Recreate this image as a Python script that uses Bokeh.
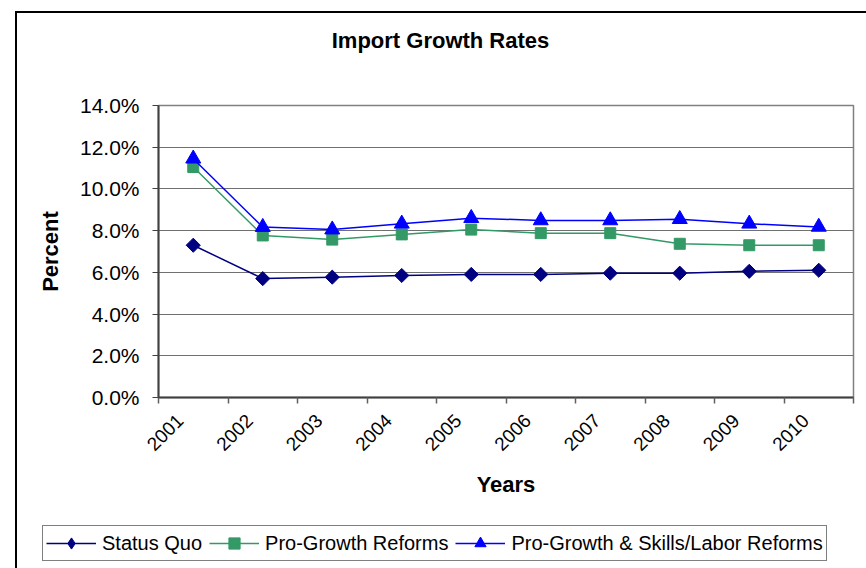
import math
from bokeh.plotting import figure
from bokeh.models import (FixedTicker, PrintfTickFormatter, Legend, LegendItem, Range1d, Label, Div)
from bokeh.embed import file_html
from bokeh.resources import INLINE

years = ["2001", "2002", "2003", "2004", "2005", "2006", "2007", "2008", "2009", "2010"]
status_quo = [7.3, 5.7, 5.77, 5.85, 5.9, 5.9, 5.96, 5.96, 6.05, 6.1]
pro_growth = [11.05, 7.77, 7.57, 7.82, 8.05, 7.88, 7.88, 7.37, 7.3, 7.3]
pro_growth_skills = [11.45, 8.17, 8.05, 8.33, 8.6, 8.49, 8.49, 8.55, 8.33, 8.18]
y_ticks = [0, 2, 4, 6, 8, 10, 12, 14]
title_text = "Import Growth Rates"

FONT = "Liberation Sans"
W = 866
TITLE_H, LEGEND_H = 80, 48
MAIN_H = 568 - TITLE_H - LEGEND_H

xs = [i + 0.5 for i in range(len(years))]
label_pos = [i + 0.31 for i in range(len(years))]


def strip(height, xr, yr):
    f = figure(width=W, height=height, output_backend="svg", toolbar_location=None,
               x_range=xr, y_range=yr,
               min_border_left=0, min_border_right=0, min_border_top=0, min_border_bottom=0,
               x_axis_type=None, y_axis_type=None)
    f.outline_line_color = None
    f.xgrid.grid_line_color = None
    f.ygrid.grid_line_color = None
    f.background_fill_color = "white"
    f.border_fill_color = "white"
    return f


# ---- title strip ----
pt = strip(TITLE_H, Range1d(0, W), Range1d(TITLE_H, 0))
pt.add_layout(Label(x=440, y=40, text=title_text, text_align="center", text_baseline="middle",
                    text_font=FONT, text_font_size="22px", text_font_style="bold",
                    text_color="black"))

# ---- main chart ----
p = figure(width=W, height=MAIN_H, output_backend="svg", toolbar_location=None,
           x_range=Range1d(0, len(years)), y_range=Range1d(0, 14),
           min_border_left=158, min_border_right=13, min_border_top=25,
           min_border_bottom=MAIN_H - 25 - 292)
p.outline_line_color = "#808080"
p.outline_line_width = 1.5
p.background_fill_color = "white"
p.border_fill_color = "white"

p.xgrid.grid_line_color = None
p.ygrid.grid_line_color = "#707070"
p.ygrid.grid_line_width = 1
p.ygrid.ticker = FixedTicker(ticks=y_ticks)

ya = p.yaxis[0]
ya.ticker = FixedTicker(ticks=y_ticks)
ya.formatter = PrintfTickFormatter(format="%.1f%%")
ya.axis_label = "Percent"
ya.axis_label_text_font = FONT
ya.axis_label_text_font_size = "22px"
ya.axis_label_text_font_style = "bold"
ya.axis_label_text_color = "black"
ya.axis_label_standoff = 14
ya.major_label_text_font = FONT
ya.major_label_text_font_size = "21px"
ya.major_label_text_color = "black"
ya.major_label_standoff = 13
ya.major_tick_out = 6
ya.major_tick_in = 0
ya.minor_tick_line_color = None
ya.axis_line_color = "#404040"
ya.axis_line_width = 2
ya.major_tick_line_color = "#404040"

xa = p.xaxis[0]
xa.ticker = FixedTicker(ticks=label_pos, minor_ticks=list(range(len(years) + 1)))
xa.major_label_overrides = {x: y for x, y in zip(label_pos, years)}
xa.major_label_orientation = math.pi / 4
xa.major_label_text_font = FONT
xa.major_label_text_font_size = "19px"
xa.major_label_text_color = "black"
xa.major_label_standoff = 14
xa.major_tick_line_color = None
xa.minor_tick_out = 6
xa.minor_tick_in = 0
xa.minor_tick_line_color = "#606060"
xa.minor_tick_line_width = 1.5
xa.axis_line_color = "#404040"
xa.axis_line_width = 2
xa.axis_label = "Years"
xa.axis_label_text_font = FONT
xa.axis_label_text_font_size = "22px"
xa.axis_label_text_font_style = "bold"
xa.axis_label_text_color = "black"
xa.axis_label_standoff = 12

# name, values, colour, chart marker, size, angle, legend marker
series = [
    ("Status Quo", status_quo, "#000080", "square", 10, math.pi / 4, "diamond"),
    ("Pro-Growth Reforms", pro_growth, "#339966", "square", 11, 0.0, "square"),
    ("Pro-Growth & Skills/Labor Reforms", pro_growth_skills, "#0000FF", "triangle", 15, 0.0, "triangle"),
]

# ---- legend strip (its renderers use the same data but lie outside its view) ----
pl = strip(LEGEND_H, Range1d(100, 101), Range1d(100, 101))

items = []
for name, vals, color, marker, size, ang, lmarker in series:
    p.line(xs, vals, line_color=color, line_width=1.5)
    p.scatter(xs, vals, marker=marker, size=size, angle=ang, fill_color=color, line_color=color)
    l2 = pl.line(xs, vals, line_color=color, line_width=1.5)
    s2 = pl.scatter(xs, vals, marker=lmarker, size=size, fill_color=color, line_color=color)
    items.append(LegendItem(label=name, renderers=[l2, s2]))

legend = Legend(items=items, orientation="horizontal", location=(42, 7))
legend.label_text_font = FONT
legend.label_text_font_size = "20px"
legend.label_text_color = "black"
legend.glyph_width = 50
legend.glyph_height = 28
legend.label_standoff = 6
legend.spacing = 7
legend.padding = 3
legend.margin = 0
legend.border_line_color = "black"
legend.border_line_width = 1
legend.background_fill_alpha = 1
pl.add_layout(legend, "center")

# outer chart-area border (left/top dark, bottom light), drawn over the page by CSS
frame_box = Div(text="", styles={
    "position": "absolute", "left": "10px", "top": "6px",
    "width": "870px", "height": "562px",
    "border-left": "2px solid #000000", "border-top": "2px solid #000000",
    "border-bottom": "2px solid #9a9a9a", "pointer-events": "none",
    "box-sizing": "border-box", "z-index": "10"})

open("out.html", "w").write(file_html([pt, p, pl, frame_box], INLINE))
